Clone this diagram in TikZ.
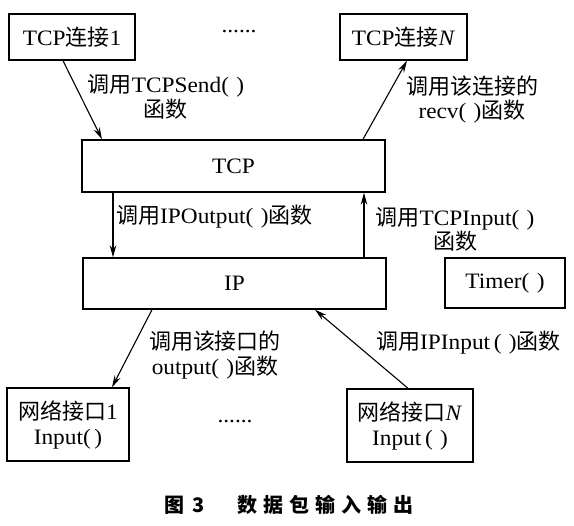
\documentclass[tikz,border=0pt]{standalone}
\usepackage{fontspec}
\setmainfont{Liberation Serif}[FakeStretch=1.06]
\newfontfamily\cjk{Noto Sans CJK SC}
\usetikzlibrary{arrows.meta}
\newcommand{\zh}[1]{{\cjk #1}}
\begin{document}
\begin{tikzpicture}[x=1pt,y=-1pt,
  box/.style={draw, line width=1.4pt, inner sep=0pt, align=center,
    font=\fontsize{22}{25}\selectfont},
  lbl/.style={inner sep=0pt, align=center, font=\fontsize{22}{24}\selectfont},
  arr/.style={-{Stealth[length=12pt,width=6.5pt]}, line width=1.1pt}]
\useasboundingbox (0,0) rectangle (574,526);
% boxes
\node[box, minimum width=126pt, minimum height=46pt] (tcp1) at (72,37) {TCP\zh{连接}1};
\node[box, minimum width=127pt, minimum height=46pt] (tcpN) at (403.5,37) {TCP\zh{连接}\textit{N}};
\node[box, minimum width=303pt, minimum height=52pt] (tcp) at (233.5,166) {TCP};
\node[box, minimum width=303pt, minimum height=51pt] (ip) at (234.5,283.5) {IP};
\node[box, minimum width=120pt, minimum height=50pt] (timer) at (505,283) {Timer(\,\,)};
\node[box, minimum width=122pt, minimum height=73pt] (nif1) at (68,424.5) {\zh{网络接口}1\\Input(\,)};
\node[box, minimum width=126pt, minimum height=73pt] (nifN) at (410,425.5) {\zh{网络接口}\textit{N}\\Input\,(\,\,)};
% dots
\node[lbl] (dots1) at (239,32) {......};
\node[lbl] (dots2) at (235,422) {......};
% arrows
\draw[arr] ([xshift=-9pt]tcp1.south) -- ([xshift=-131.5pt]tcp.north);
\draw[arr] ([xshift=129.5pt]tcp.north) -- ([xshift=3.5pt]tcpN.south);
\draw[arr] ([xshift=-120.5pt]tcp.south) -- ([xshift=-121.5pt]ip.north);
\draw[arr] ([xshift=129.5pt]ip.north) -- ([xshift=130.5pt]tcp.south);
\draw[arr] ([xshift=-82.5pt]ip.south) -- ([xshift=44pt]nif1.north);
\draw[arr] ([xshift=-2pt]nifN.north) -- ([xshift=80.5pt]ip.south);
% labels
\node[lbl] (l1) at (166,97) {\zh{调用}TCPSend(\,\,)\\[1pt]\zh{函数}};
\node[lbl] (l2) at (472,99.5) {\zh{调用该连接的}\\recv(\,\,)\zh{函数}};
\node[lbl, anchor=west] (l3) at (116,217) {\zh{调用}IPOutput(\,\,)\zh{函数}};
\node[lbl] (l4) at (455,229) {\zh{调用}TCPInput(\,\,)\\\zh{函数}};
\node[lbl] (l5) at (215,355.5) {\zh{调用该接口的}\\[1pt]output(\,\,)\zh{函数}};
\node[lbl, anchor=west] (l6) at (376,343) {\zh{调用}IPInput\,(\,\,)\zh{函数}};
% caption
\node[inner sep=0pt, font=\fontsize{20}{24}\selectfont\cjk\bfseries] (cap) at (289,505)
  {图\hspace{8pt}3\hspace{32pt}数\hspace{6pt}据\hspace{6pt}包\hspace{6pt}输\hspace{6pt}入\hspace{6pt}输\hspace{6pt}出};
\end{tikzpicture}
\end{document}
